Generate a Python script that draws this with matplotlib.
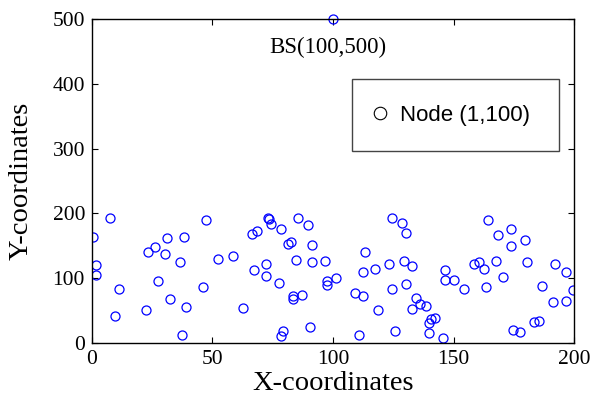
import matplotlib
matplotlib.use("Agg")
from matplotlib import pyplot as plt
from matplotlib.lines import Line2D

# node positions
node_x = [7.5, 0.5, 47.2, 66.3, 68.3, 31.2, 38.2, 26.1, 23.2, 30.3,
          1.5, 36.4, 52.1, 58.4, 1.5, 67.2, 27.4, 11.1, 46.1, 32.2,
          39.1, 22.3, 9.4, 62.5, 37.2,
          73.2, 73.6, 74.2, 85.3, 89.5, 78.3, 81.3, 82.7, 91.4, 84.5,
          91.4, 96.7, 72.3, 72.3, 77.4, 97.4, 97.4, 101.2, 83.4, 83.4,
          87.3, 79.3, 78.3, 90.5, 113.4, 124.6, 128.5, 130.1, 112.6, 117.6,
          123.2, 129.3, 132.6, 109.1, 112.6, 124.6, 130.1, 118.5, 134.3, 136.1,
          132.6, 110.6, 125.6,
          164.3, 168.6, 173.7, 179.7, 173.7, 146.6, 146.5, 150.3, 154.5, 158.6,
          160.7, 162.7, 167.6, 170.5, 163.5, 180.6, 192.2, 196.5, 186.7, 199.7,
          191.3, 196.5, 138.6, 142.5, 140.7, 139.7, 139.7, 145.6, 174.6, 177.4,
          183.4, 185.5]
node_y = [193, 164, 190, 168, 173, 162.5, 164, 148.6, 141, 138,
          121, 124.5, 129, 135, 105, 112, 95.7, 83, 86, 68,
          55.6, 51, 41.7, 54.5, 12.8,
          193.4, 191, 183.6, 193, 182, 176, 153, 156, 151.7, 128.6,
          124.5, 126, 121.4, 103, 92, 95.7, 89, 99.8, 72.5, 67.4,
          73.6, 19, 11.3, 25.2, 141, 193, 185, 170, 109, 114.7,
          121.4, 126, 118.3, 76.6, 72, 83.3, 90.6, 51, 69.4, 60,
          53, 12.8, 19,
          190, 167, 176, 159, 150, 112, 96.7, 96.7, 83.3, 121.4,
          125, 113.7, 126.5, 101.4, 86, 124.5, 121.4, 109, 87.5, 81.8,
          63.3, 65.3, 57, 39, 36.5, 30.4, 16, 7.2, 19.5, 16.5,
          32.4, 34.4]
bs_x = [100]
bs_y = [500]

serif = "Liberation Serif"

fig = plt.figure(figsize=(6.02, 3.97), dpi=100)
ax = fig.add_axes([0.1528, 0.136, 0.8007, 0.816])

ax.plot(node_x, node_y, 'o', mfc='none', mec='blue', ms=6.5, mew=0.9)
ax.plot(bs_x, bs_y, 'o', mfc='none', mec='blue', ms=6.5, mew=0.9, clip_on=False)
ax.text(98, 448, 'BS(100,500)', ha='center', va='baseline',
        fontsize=16.5, family=serif)

ax.set_xlim(0, 200)
ax.set_ylim(0, 500)
ax.set_xticks([0, 50, 100, 150, 200])
ax.set_yticks([0, 100, 200, 300, 400, 500])
ax.tick_params(direction='in', top=True, right=True, length=4, width=0.8,
               labelsize=15.5, pad=5)
for lab in ax.get_xticklabels() + ax.get_yticklabels():
    lab.set_family(serif)
for sp in ax.spines.values():
    sp.set_linewidth(1.0)

ax.set_xlabel('X-coordinates', fontsize=20.5, family=serif)
ax.set_ylabel('Y-coordinates', fontsize=20.5, family=serif)
ax.xaxis.set_label_coords(0.5, -0.085)
ax.yaxis.set_label_coords(-0.122, 0.5)

handle = Line2D([], [], ls='none', marker='o', mfc='none', mec='black',
                ms=9, mew=0.8)
leg = ax.legend([handle], ['Node (1,100)'], loc='center',
                bbox_to_anchor=(0.539, 0.599, 0.43, 0.207), mode='expand',
                borderaxespad=0, fancybox=False, framealpha=1,
                edgecolor='#444444',
                prop={'family': 'Liberation Sans', 'size': 16},
                borderpad=1.15, handlelength=0.2, handletextpad=0.8)
leg.get_frame().set_linewidth(1.0)

fig.savefig('out.png', dpi=100)
